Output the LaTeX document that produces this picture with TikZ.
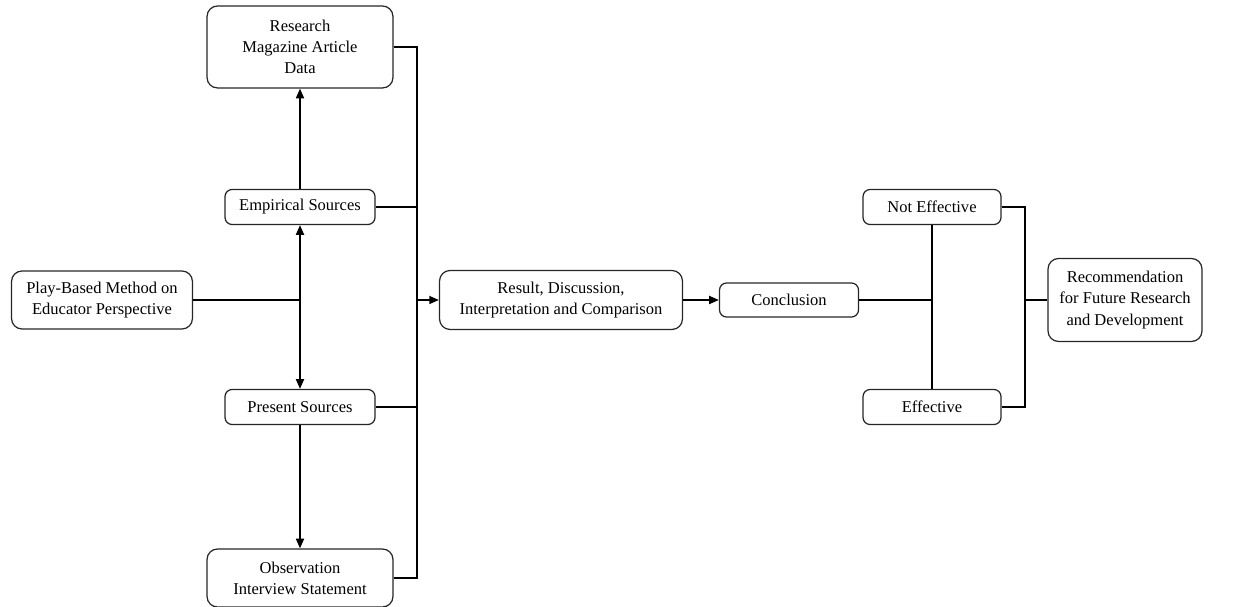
\documentclass[tikz,border=0pt]{standalone}
\usepackage{fontspec}
\setmainfont{Liberation Serif}
\usetikzlibrary{arrows.meta,positioning}
\tikzset{
    box/.style = {rectangle, rounded corners=4pt, draw=black!85, line width=0.7pt, align=center, text centered, inner sep=1pt, font=\rmfamily\fontsize{9.4}{12}\selectfont},
    bigbox/.style = {box, rounded corners=6pt},
    link/.style = {line width=1.1pt, draw=black}
}

\begin{document}
\begin{tikzpicture}[
    x=0.02cm,
    y=-0.02cm,
    >={Triangle[length=5.5pt,width=4.5pt]}
]
    \useasboundingbox (0,0) rectangle (1248,607);

    % sources column
    \node [bigbox, minimum width=3.72cm, minimum height=1.64cm] (research) at (300,47) {Research\\Magazine Article\\Data};
    \node [box, minimum width=3cm, minimum height=0.7cm] (empirical) at (300,207) {Empirical Sources};
    \node [bigbox, minimum width=3.62cm, minimum height=1.16cm] (play) at (102,300) {Play-Based Method on\\Educator Perspective};
    \node [box, minimum width=3cm, minimum height=0.7cm] (present) at (300,407) {Present Sources};
    \node [bigbox, minimum width=3.72cm, minimum height=1.16cm] (observation) at (300,578) {Observation\\Interview Statement};

    % analysis and outcome
    \node [bigbox, minimum width=4.86cm, minimum height=1.18cm] (result) at (561,300) {Result, Discussion,\\Interpretation and Comparison};
    \node [box, minimum width=2.78cm, minimum height=0.68cm] (conclusion) at (789,300) {Conclusion};
    \node [box, minimum width=2.76cm, minimum height=0.7cm] (noteff) at (932,207) {Not Effective};
    \node [box, minimum width=2.76cm, minimum height=0.7cm] (eff) at (932,407) {Effective};
    \node [bigbox, minimum width=3.08cm, minimum height=1.66cm] (recom) at (1125,300) {Recommendation\\for Future Research\\and Development};

    \coordinate (split) at (300,300);
    \coordinate (bustop) at (417,47);
    \coordinate (busbot) at (417,578);
    \coordinate (merge) at (932,300);
    \coordinate (rbus) at (1025,300);

    \draw [link] (play.east) -- (split);
    \draw [link, ->] (split) -- (empirical.south);
    \draw [link, ->] (empirical.north) -- (research.south);
    \draw [link, ->] (split) -- (present.north);
    \draw [link, ->] (present.south) -- (observation.north);

    \draw [link] (research.east) -- (bustop) -- (busbot) -- (observation.east);
    \draw [link] (empirical.east) -- (empirical.east -| bustop);
    \draw [link] (present.east) -- (present.east -| bustop);
    \draw [link, ->] (bustop |- result.west) -- (result.west);
    \draw [link, ->] (result.east) -- (conclusion.west);

    \draw [link] (conclusion.east) -- (merge);
    \draw [link] (noteff.south) -- (eff.north);
    \draw [link] (noteff.east) -| (rbus) |- (eff.east);
    \draw [link] (rbus) -- (recom.west);
\end{tikzpicture}
\end{document}
